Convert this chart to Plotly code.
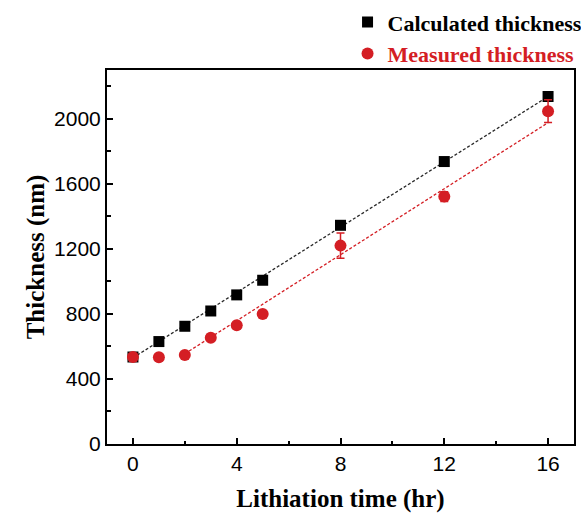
import plotly.graph_objects as go

# Lithiation time (hr)
time_calc = [0, 1, 2, 3, 4, 5, 8, 12, 16]
thick_calc = [535, 630, 724, 818, 917, 1007, 1345, 1737, 2137]

time_meas = [0, 1, 2, 3, 4, 5, 8, 12, 16]
thick_meas = [535, 533, 548, 654, 730, 800, 1220, 1522, 2047]
err_meas = [0, 0, 0, 0, 0, 0, 77, 30, 70]

# Linear guide lines (end points)
guide_calc_x = [0, 16]
guide_calc_y = [530, 2137]
guide_meas_x = [2, 16]
guide_meas_y = [555, 1976]

x_ticks = [0, 4, 8, 12, 16]
y_ticks = [0, 400, 800, 1200, 1600, 2000]

RED = "rgb(212,30,36)"
BLACK = "black"
serif = "Liberation Serif"
sans = "Liberation Sans"

fig = go.Figure()

fig.add_trace(go.Scatter(
    x=guide_calc_x, y=guide_calc_y, mode="lines",
    line=dict(color="rgb(40,40,40)", width=1.3, dash="3px,2px"),
    showlegend=False, hoverinfo="skip"))
fig.add_trace(go.Scatter(
    x=guide_meas_x, y=guide_meas_y, mode="lines",
    line=dict(color=RED, width=1.3, dash="3px,2px"),
    showlegend=False, hoverinfo="skip"))

fig.add_trace(go.Scatter(
    x=time_calc, y=thick_calc, mode="markers",
    name="<b>Calculated thickness</b>",
    marker=dict(symbol="square", size=11, color=BLACK)))
fig.add_trace(go.Scatter(
    x=time_meas, y=thick_meas, mode="markers",
    name="<b><span style='color:" + RED + "'>Measured thickness</span></b>",
    marker=dict(symbol="circle", size=12, color=RED),
    error_y=dict(type="data", array=err_meas, visible=True,
                 color=RED, thickness=1.5, width=4)))

axis_common = dict(
    showline=True, linecolor="black", linewidth=2, mirror=True,
    ticks="inside", ticklen=6, tickwidth=1.5, tickcolor="black",
    showgrid=False, zeroline=False, automargin=False,
    tickfont=dict(family=sans, size=21, color="black"),
)

fig.update_xaxes(
    range=[-1, 17], tickvals=x_ticks,
    minor=dict(dtick=2, tick0=0, ticks="inside", ticklen=3.5, tickwidth=1.5, tickcolor="black"),
    title=dict(text="<b>Lithiation time (hr)</b>",
               font=dict(family=serif, size=25, color="black"), standoff=17),
    **axis_common)
fig.update_yaxes(
    range=[0, 2300], tickvals=y_ticks,
    minor=dict(dtick=200, tick0=0, ticks="inside", ticklen=3.5, tickwidth=1.5, tickcolor="black"),
    title=dict(text="<b>Thickness (nm)</b>",
               font=dict(family=serif, size=25, color="black"), standoff=2),
    **axis_common)

fig.update_layout(
    width=581, height=513,
    margin=dict(l=107, r=7, t=70, b=69, autoexpand=False),
    paper_bgcolor="white", plot_bgcolor="white",
    showlegend=True,
    legend=dict(
        x=1.029, xanchor="right",
        y=1.184, yanchor="top",
        font=dict(family=serif, size=22, color="black"),
        bgcolor="rgba(0,0,0,0)", tracegroupgap=0,
    ),
)

fig.write_html("out.html")
